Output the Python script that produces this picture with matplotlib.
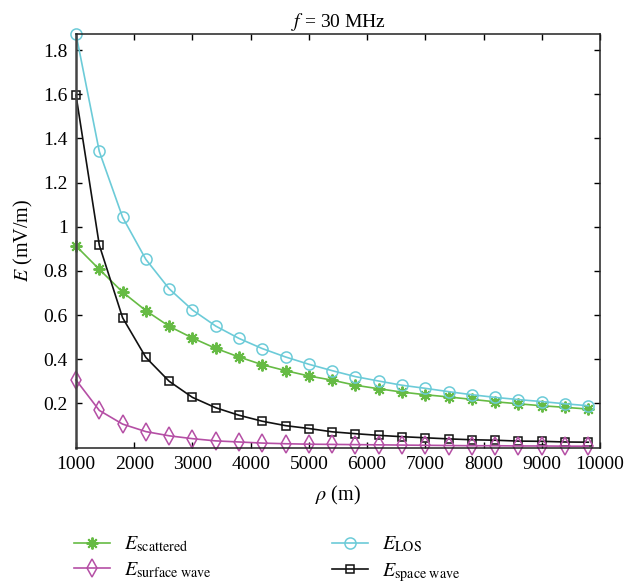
import matplotlib
matplotlib.use("Agg")
import matplotlib.pyplot as plt
from matplotlib.ticker import FuncFormatter

plt.rcParams['font.family'] = ['Liberation Serif', 'DejaVu Serif']
plt.rcParams['mathtext.fontset'] = 'stix'

rho = [1000, 1400, 1800, 2200, 2600, 3000, 3400, 3800, 4200, 4600, 5000, 5400,
       5800, 6200, 6600, 7000, 7400, 7800, 8200, 8600, 9000, 9400, 9800]
E_los = [1.873, 1.341, 1.043, 0.852, 0.719, 0.623, 0.550, 0.494, 0.448, 0.410,
         0.377, 0.348, 0.321, 0.301, 0.282, 0.268, 0.253, 0.239, 0.227, 0.217,
         0.208, 0.198, 0.189]
E_scattered = [0.913, 0.807, 0.704, 0.620, 0.549, 0.496, 0.449, 0.410, 0.375,
               0.348, 0.324, 0.305, 0.282, 0.266, 0.251, 0.239, 0.229, 0.218,
               0.207, 0.198, 0.189, 0.182, 0.174]
E_space = [1.596, 0.917, 0.588, 0.408, 0.300, 0.227, 0.180, 0.146, 0.119, 0.099,
           0.086, 0.071, 0.0625, 0.055, 0.049, 0.044, 0.039, 0.035, 0.033, 0.029,
           0.028, 0.025, 0.024]
E_surface = [0.306, 0.168, 0.106, 0.072, 0.053, 0.040, 0.030, 0.025, 0.020,
             0.017, 0.015, 0.014, 0.013, 0.012, 0.011, 0.010, 0.009, 0.008,
             0.008, 0.007, 0.007, 0.006, 0.006]

x_ticks = [1000, 2000, 3000, 4000, 5000, 6000, 7000, 8000, 9000, 10000]
y_ticks = [0.2, 0.4, 0.6, 0.8, 1.0, 1.2, 1.4, 1.6, 1.8]

c_green = '#66bb44'
c_cyan = '#6ccbd8'
c_mag = '#b54fa5'
c_black = '#111111'

W, H = 636, 584
fig = plt.figure(figsize=(W / 100, H / 100), dpi=100)
ax = fig.add_axes([76 / W, 1 - 447.5 / H, (600 - 76) / W, (447.5 - 34) / H])

l_sc, = ax.plot(rho, E_scattered, color=c_green, lw=1.2, marker=(8, 2, 0),
                ms=8.5, mew=1.4, mec=c_green, label=r'$E_{\mathrm{scattered}}$', clip_on=False)
l_los, = ax.plot(rho, E_los, color=c_cyan, lw=1.2, marker='o', ms=8,
                 mfc='none', mec=c_cyan, mew=1.1, label=r'$E_{\mathrm{LOS}}$', clip_on=False)
l_sp, = ax.plot(rho, E_space, color=c_black, lw=1.2, marker='s', ms=5.5,
                mfc='none', mec=c_black, mew=1.1, label=r'$E_{\mathrm{space\ wave}}$', clip_on=False)
l_su, = ax.plot(rho, E_surface, color=c_mag, lw=1.2, marker='d', ms=9,
                mfc='none', mec=c_mag, mew=1.1, label=r'$E_{\mathrm{surface\ wave}}$', clip_on=False)

ax.set_xlim(1000, 10000)
ax.set_ylim(0, 1.873)
ax.set_xticks(x_ticks)
ax.set_yticks(y_ticks)
ax.yaxis.set_major_formatter(FuncFormatter(lambda v, p: '%g' % round(v, 2)))
ax.tick_params(direction='in', top=True, right=True, length=4, width=1,
               labelsize=14, pad=6)
for s in ax.spines.values():
    s.set_linewidth(1.1)
    s.set_color('#222222')
ax.spines['left'].set_linewidth(1.8)
ax.spines['left'].set_color('#444444')

ax.set_title(r'$f$ = 30 MHz', fontsize=14, pad=5)
ax.set_xlabel(r'$\rho$ (m)', fontsize=14.5, labelpad=8)
ax.set_ylabel(r'$E$ (mV/m)', fontsize=14.5, labelpad=6)

kw = dict(frameon=False, fontsize=14.5, handlelength=1.8, handletextpad=0.7,
          labelspacing=0.3, borderpad=0, borderaxespad=0, loc='upper left')
leg1 = fig.legend(handles=[l_sc, l_su], bbox_to_anchor=(74 / W, 1 - 535 / H), **kw)
leg2 = fig.legend(handles=[l_los, l_sp], bbox_to_anchor=(332 / W, 1 - 535 / H), **kw)

fig.savefig('out.png', dpi=100)
